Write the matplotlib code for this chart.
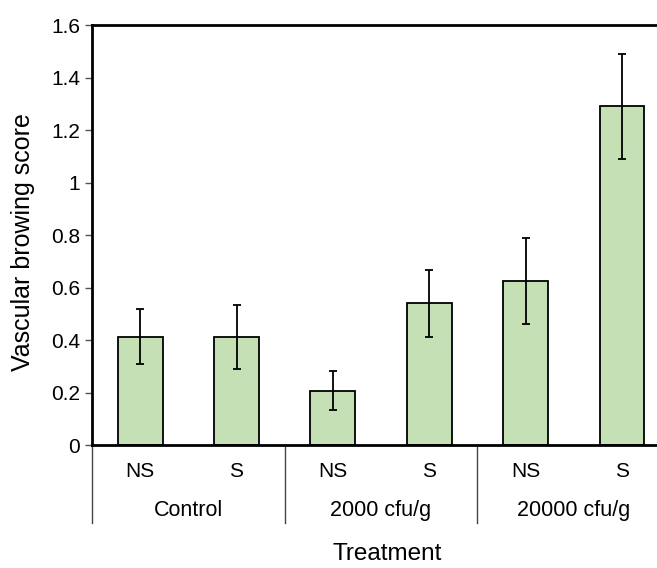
import matplotlib
matplotlib.use('Agg')
import matplotlib.pyplot as plt
import matplotlib.transforms as mtransforms

# Data
groups = ['Control', '2000 cfu/g', '20000 cfu/g']
subgroups = ['NS', 'S', 'NS', 'S', 'NS', 'S']
scores = [0.413, 0.413, 0.207, 0.540, 0.624, 1.291]
errors = [0.105, 0.122, 0.075, 0.128, 0.163, 0.200]

plt.rcParams['font.family'] = ['Liberation Sans', 'DejaVu Sans']

fig = plt.figure(figsize=(6.57, 5.68), dpi=100)
ax = fig.add_axes([0.140, 0.2165, 0.880, 0.7394])

x = list(range(len(scores)))
ax.bar(x, scores, width=0.465, color='#c5e0b4', edgecolor='black', linewidth=1.3, zorder=2)
ax.errorbar(x, scores, yerr=errors, fmt='none', ecolor='black', elinewidth=1.3,
            capsize=3, capthick=1.3, zorder=3)

ax.set_xlim(-0.5, 5.5)
ax.set_ylim(0, 1.6)
ax.set_yticks([0, 0.2, 0.4, 0.6, 0.8, 1.0, 1.2, 1.4, 1.6])
ax.set_yticklabels(['0', '0.2', '0.4', '0.6', '0.8', '1', '1.2', '1.4', '1.6'])
ax.tick_params(axis='y', labelsize=15, length=5, width=1, color='#555555', pad=3.5)
ax.set_xticks([])
for side in ['left', 'top', 'bottom', 'right']:
    ax.spines[side].set_linewidth(2)
    ax.spines[side].set_color('black')

# category labels under the axis
trans = mtransforms.blended_transform_factory(ax.transData, ax.transAxes)
for i, lab in enumerate(subgroups):
    ax.text(i, -0.063, lab, transform=trans, ha='center', va='center', fontsize=15)
for g, name in enumerate(groups):
    ax.text(2 * g + 0.5, -0.155, name, transform=trans, ha='center', va='center', fontsize=15.5)
for sep in [-0.5, 1.5, 3.5, 5.5]:
    ax.plot([sep, sep], [0, -0.186], transform=trans, color='#444444', linewidth=1,
            clip_on=False)

fig.text(0.035, 0.574, 'Vascular browing score', rotation=90, ha='center', va='center', fontsize=18)
fig.text(0.590, 0.024, 'Treatment', ha='center', va='center', fontsize=17.5)

fig.savefig('out.png', dpi=100)
